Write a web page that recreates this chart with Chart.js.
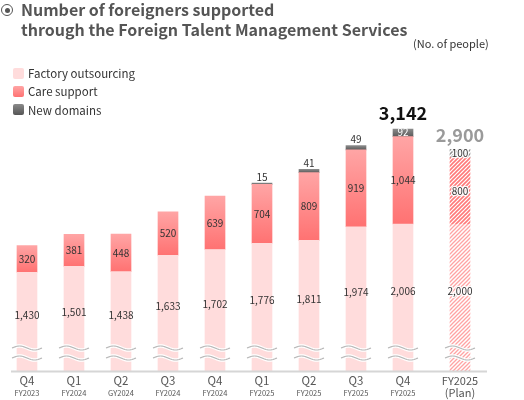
<!DOCTYPE html>
<html>
<head>
<meta charset="utf-8">
<script src="https://cdn.jsdelivr.net/npm/chart.js@4.4.1/dist/chart.umd.min.js"></script>
<style>
  body { margin: 0; background: #fff; font-family: "Noto Sans CJK JP", "Noto Sans", sans-serif; }
  #wrap { position: relative; width: 524px; height: 400px; overflow: hidden; }
  #wrap canvas { position: absolute; left: 0; top: 0; }
  .title { position: absolute; left: 21px; top: 0px; font-size: 16px; font-weight: 700; color: #555; line-height: 19.5px; white-space: nowrap; }
  .icon { position: absolute; left: 1px; top: 4px; width: 10px; height: 10px; border: 1.5px solid #555; border-radius: 50%; }
  .icon::after { content: ""; position: absolute; left: 2.5px; top: 2.5px; width: 5px; height: 5px; border-radius: 50%; background: #555; }
  .unit { position: absolute; left: 413px; top: 35px; font-size: 11px; color: #333; white-space: nowrap; }
  .legend { position: absolute; left: 13px; top: 64px; font-size: 11.5px; color: #333; }
  .legend div { height: 18.3px; display: flex; align-items: center; white-space: nowrap; }
  .legend span { display: inline-block; width: 11px; height: 11px; border-radius: 2px; margin-right: 4px; }
</style>
</head>
<body>
<div id="wrap">
  <canvas id="chart"></canvas>
  <div class="icon"></div>
  <div class="title">Number of foreigners supported<br>through the Foreign Talent Management Services</div>
  <div class="unit">(No. of people)</div>
  <div class="legend" id="legend"></div>
</div>
<script>
// Data
const quarters = ['Q4', 'Q1', 'Q2', 'Q3', 'Q4', 'Q1', 'Q2', 'Q3', 'Q4', 'FY2025'];
const years = ['FY2023', 'FY2024', 'GY2024', 'FY2024', 'FY2024', 'FY2025', 'FY2025', 'FY2025', 'FY2025', '(Plan)'];
const factory = [1430, 1501, 1438, 1633, 1702, 1776, 1811, 1974, 2006, null];
const care = [320, 381, 448, 520, 639, 704, 809, 919, 1044, null];
const newDomains = [null, null, null, null, null, 15, 41, 49, 92, null];
const planFactory = [null, null, null, null, null, null, null, null, null, 2000];
const planCare = [null, null, null, null, null, null, null, null, null, 800];
const planNew = [null, null, null, null, null, null, null, null, null, 100];
const totalIndex = 8;   // only the latest quarter gets a total

const FONT = '"Noto Sans CJK JP", "Noto Sans", sans-serif';

// diagonal hatch used for the plan bar
function hatch(color, lw) {
    const c = document.createElement('canvas');
    c.width = 4; c.height = 4;
    const g = c.getContext('2d');
    g.fillStyle = '#fff';
    g.fillRect(0, 0, 4, 4);
    g.strokeStyle = color;
    g.lineWidth = lw;
    g.beginPath();
    g.moveTo(0, 4); g.lineTo(4, 0);
    g.moveTo(-1, 1); g.lineTo(1, -1);
    g.moveTo(3, 5); g.lineTo(5, 3);
    g.stroke();
    return g.createPattern(c, 'repeat');
}

// vertical gradient over one stacked segment
function segGradient(top, bottom, c1, c2) {
    return function (ctx) {
        const chart = ctx.chart;
        const i = ctx.dataIndex;
        if (!chart.chartArea || i === undefined || factory[i] == null) return c2;
        const y = chart.scales.y;
        const t = y.getPixelForValue(top(i)), b = y.getPixelForValue(bottom(i));
        if (!isFinite(t) || !isFinite(b)) return c2;
        const g = chart.ctx.createLinearGradient(0, t, 0, b);
        g.addColorStop(0, c1);
        g.addColorStop(1, c2);
        return g;
    };
}

const careFill = segGradient(i => factory[i] + care[i], i => factory[i], '#ffa5a5', '#ff7272');
const newFill = segGradient(i => factory[i] + care[i] + (newDomains[i] || 0), i => factory[i] + care[i], '#8a8a8a', '#5a5a5a');

// legend
const legendItems = [
    ['Factory outsourcing', '#ffdcdc'],
    ['Care support', 'linear-gradient(#ffa5a5, #ff7272)'],
    ['New domains', 'linear-gradient(#8a8a8a, #555)']
];
document.getElementById('legend').innerHTML = legendItems
    .map(([t, c]) => '<div><span style="background:' + c + '"></span>' + t + '</div>').join('');

function fmt(v) { return v.toLocaleString('en-US'); }

const overlay = {
    id: 'overlay',
    afterDatasetsDraw(chart) {
        const ctx = chart.ctx;
        const area = chart.chartArea;
        const m = k => chart.getDatasetMeta(k).data;
        ctx.save();
        ctx.textAlign = 'center';
        ctx.textBaseline = 'middle';

        // break marks
        const xs = [];
        for (let i = 0; i < quarters.length; i++) {
            const el = factory[i] != null ? m(0)[i] : m(3)[i];
            xs.push(el.x);
            [area.bottom - 23, area.bottom - 13].forEach(y0 => {
                const path = () => {
                    ctx.beginPath();
                    for (let t = 0; t <= 30; t++) {
                        const px = el.x - 15 + t;
                        const py = y0 - 2 * Math.sin(2 * Math.PI * t / 30);
                        t === 0 ? ctx.moveTo(px, py) : ctx.lineTo(px, py);
                    }
                };
                path();
                ctx.strokeStyle = '#fff'; ctx.lineWidth = 3.5; ctx.stroke();
                path();
                ctx.strokeStyle = '#b9b9b9'; ctx.lineWidth = 1.2; ctx.stroke();
            });
        }

        ctx.font = '10px ' + FONT;
        ctx.lineJoin = 'round';
        // plan labels sit on the hatch, so give them a white halo
        const label = (txt, x, y, color, halo) => {
            if (halo) {
                ctx.strokeStyle = 'rgba(255,255,255,0.9)';
                ctx.lineWidth = 2.5;
                ctx.strokeText(txt, x, y);
            }
            ctx.fillStyle = color;
            ctx.fillText(txt, x, y);
        };
        const rows = [[factory, care, newDomains, 0], [planFactory, planCare, planNew, 3]];
        rows.forEach(([f, c, n, k]) => {
            const halo = k === 3;
            for (let i = 0; i < quarters.length; i++) {
                if (f[i] == null) continue;
                const ef = m(k)[i], ec = m(k + 1)[i], en = m(k + 2)[i];
                label(fmt(f[i]), ef.x, (ef.y + area.bottom - 13) / 2, '#333', halo);
                label(fmt(c[i]), ec.x, (ec.y + ec.base) / 2, '#333', halo);
                if (n[i] != null) {
                    if (k === 0 && n[i] < 60) {
                        label(fmt(n[i]), en.x, en.y - 6, '#333', false);
                    } else {
                        label(fmt(n[i]), en.x, (en.y + en.base) / 2 - 0.5, k === 0 ? '#fff' : '#333', halo);
                    }
                }
            }
        });

        // totals
        ctx.font = 'bold 18px ' + FONT;
        const tot = factory[totalIndex] + care[totalIndex] + newDomains[totalIndex];
        ctx.fillStyle = '#111';
        ctx.fillText(fmt(tot), m(2)[totalIndex].x, m(2)[totalIndex].y - 16);
        const last = quarters.length - 1;
        const ptot = planFactory[last] + planCare[last] + planNew[last];
        ctx.fillStyle = '#9a9a9a';
        ctx.fillText(fmt(ptot), m(5)[last].x, m(5)[last].y - 14);

        // baseline
        ctx.strokeStyle = '#d6d6d6';
        ctx.lineWidth = 2;
        ctx.beginPath();
        ctx.moveTo(11, area.bottom + 0.5);
        ctx.lineTo(487, area.bottom + 0.5);
        ctx.stroke();

        // category labels
        ctx.fillStyle = '#555';
        for (let i = 0; i < quarters.length; i++) {
            ctx.font = (i === last ? '11px ' : '11.5px ') + FONT;
            ctx.fillText(quarters[i], xs[i], area.bottom + 10);
            ctx.font = (i === last ? '11px ' : '7.5px ') + FONT;
            ctx.fillText(years[i], xs[i], area.bottom + (i === last ? 21.5 : 22.5));
        }
        ctx.restore();
    }
};

const common = { barThickness: 20, borderWidth: 0 };

new Chart(document.getElementById('chart'), {
    type: 'bar',
    data: {
        labels: quarters,
        datasets: [
            { ...common, label: 'Factory outsourcing', data: factory, stack: 'actual', skipNull: true, backgroundColor: '#ffdcdc' },
            { ...common, label: 'Care support', data: care, stack: 'actual', skipNull: true, backgroundColor: careFill },
            { ...common, label: 'New domains', data: newDomains, stack: 'actual', skipNull: true, backgroundColor: newFill },
            { ...common, label: 'Factory outsourcing (Plan)', data: planFactory, stack: 'plan', backgroundColor: hatch('#ffa3a3', 1.3) },
            { ...common, label: 'Care support (Plan)', data: planCare, stack: 'plan', backgroundColor: hatch('#ff7a7a', 1.6) },
            { ...common, label: 'New domains (Plan)', data: planNew, stack: 'plan', backgroundColor: hatch('#8c8c8c', 1.4) }
        ]
    },
    options: {
        responsive: true,
        maintainAspectRatio: false,
        animation: false,
        layout: { padding: { left: 3.5, right: 50.5, top: 99, bottom: 29 } },
        scales: {
            x: { stacked: true, display: false },
            y: { stacked: true, display: false, min: 250, max: 3500 }
        },
        plugins: {
            legend: { display: false },
            tooltip: { enabled: false }
        }
    },
    plugins: [overlay]
});
</script>
</body>
</html>
